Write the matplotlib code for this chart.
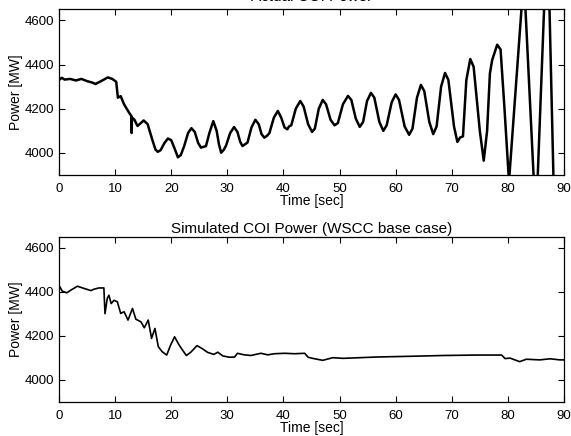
import matplotlib
matplotlib.use('Agg')
import matplotlib.pyplot as plt

# Actual COI power (measured), time in sec, power in MW
actual_t = [0.0, 0.5, 1.0, 2.0, 3.0, 4.0, 5.0, 6.0, 6.5, 7.5, 8.7, 9.5, 10.2,
            10.5, 11.0, 11.6, 12.5, 12.9, 12.95, 13.0, 13.4, 14.0, 15.1, 15.8,
            16.7, 17.2, 17.6, 18.1, 18.8, 19.4, 20.0, 20.6, 21.2, 21.7, 22.3,
            23.0, 23.6, 24.2, 24.8, 25.3, 25.8, 26.2, 26.8, 27.5, 28.1, 28.5,
            28.9, 29.4, 29.8, 30.5, 31.2, 31.8, 32.3, 32.7, 33.2, 33.6, 34.3,
            35.0, 35.6, 36.1, 36.6, 37.1, 37.5, 38.3, 39.0, 39.6, 40.2, 40.7,
            41.0, 41.4, 42.2, 43.0, 43.6, 44.4, 45.1, 45.6, 46.3, 47.0, 47.6,
            48.4, 49.1, 49.7, 50.6, 51.5, 52.1, 52.9, 53.6, 54.2, 54.9, 55.6,
            56.2, 57.1, 57.8, 58.4, 59.3, 60.0, 60.6, 61.6, 62.4, 63.0, 63.8,
            64.5, 65.1, 66.0, 66.7, 67.3, 68.1, 68.8, 69.4, 70.4, 71.0, 71.5,
            72.0, 72.6, 73.3, 73.9, 75.0, 75.7, 76.3, 76.8, 77.2, 78.1, 78.7,
            79.4, 80.2, 82.85, 85.0, 87.05, 88.3]
actual_p = [4330, 4340, 4332, 4335, 4328, 4335, 4325, 4318, 4312, 4325, 4342, 4335, 4322,
            4250, 4257, 4220, 4182, 4167, 4090, 4160, 4152, 4122, 4147, 4130,
            4054, 4015, 4005, 4012, 4045, 4065, 4058, 4020, 3980, 3990, 4030,
            4090, 4112, 4095, 4045, 4024, 4028, 4031, 4090, 4144, 4100, 4040,
            4001, 4015, 4035, 4090, 4117, 4095, 4050, 4031, 4040, 4047, 4115,
            4150, 4130, 4085, 4069, 4078, 4090, 4160, 4190, 4160, 4115, 4107,
            4120, 4125, 4200, 4235, 4210, 4130, 4095, 4110, 4200, 4240, 4220,
            4150, 4125, 4135, 4220, 4258, 4240, 4155, 4118, 4140, 4235, 4272,
            4250, 4140, 4100, 4125, 4230, 4265, 4240, 4120, 4082, 4110, 4250,
            4308, 4280, 4140, 4085, 4120, 4300, 4362, 4330, 4120, 4050, 4070,
            4075, 4330, 4425, 4390, 4100, 3965, 4100, 4360, 4420, 4490, 4468,
            4200, 3870, 4800, 3680, 5050, 3700]

# Simulated COI power (WSCC base case)
sim_t = [0.0, 0.2, 0.6, 1.4, 2.1, 3.3, 4.2, 5.7, 6.2, 7.1, 8.0, 8.2, 8.6, 8.9,
         9.3, 9.8, 10.4, 11.0, 11.6, 12.3, 13.1, 13.7, 14.6, 15.2, 15.9, 16.5,
         17.1, 17.7, 18.4, 19.2, 19.9, 20.6, 21.4, 22.0, 22.7, 23.5, 24.6, 25.6,
         26.5, 27.6, 28.3, 29.2, 30.4, 31.3, 31.8, 33.0, 34.2, 36.0, 37.2, 38.4,
         40.2, 42.0, 43.8, 44.4, 45.2, 47.0, 48.8, 50.6, 53.6, 56.5, 60.1, 63.7,
         68.5, 74.4, 78.9, 79.5, 80.4, 82.1, 83.3, 85.7, 87.5, 89.3, 90.0]
sim_p = [4425, 4420, 4402, 4395, 4407, 4425, 4417, 4405, 4411, 4417, 4417, 4300, 4369, 4384,
         4346, 4361, 4354, 4301, 4309, 4271, 4324, 4275, 4263, 4236, 4271, 4188,
         4233, 4150, 4127, 4112, 4158, 4195, 4158, 4135, 4110, 4125, 4155, 4140,
         4124, 4115, 4125, 4108, 4102, 4103, 4120, 4113, 4110, 4120, 4113, 4118,
         4120, 4118, 4120, 4102, 4097, 4088, 4100, 4097, 4100, 4103, 4105, 4107,
         4110, 4112, 4112, 4096, 4098, 4082, 4093, 4090, 4095, 4090, 4090]

x_ticks = [0, 10, 20, 30, 40, 50, 60, 70, 80, 90]
y_ticks = [4000, 4200, 4400, 4600]

plt.rcParams['font.family'] = ['Liberation Sans', 'DejaVu Sans']

fig = plt.figure(figsize=(5.71, 4.36), dpi=100)
ax1 = fig.add_axes([0.1033, 0.5986, 0.8844, 0.3800])
ax2 = fig.add_axes([0.1033, 0.0787, 0.8844, 0.3784])

panels = [(ax1, actual_t, actual_p, 'Actual COI Power', 1.8, 6),
          (ax2, sim_t, sim_p, 'Simulated COI Power (WSCC base case)', 1.2, 3)]
for ax, t, p, title, lw, tpad in panels:
    ax.plot(t, p, color='black', lw=lw)
    ax.set_xlim(0, 90)
    ax.set_ylim(3900, 4650)
    ax.set_xticks(x_ticks)
    ax.set_yticks(y_ticks)
    ax.tick_params(axis='x', pad=6)
    ax.tick_params(direction='in', top=True, right=True, length=4, width=0.8, labelsize=9.5)
    for s in ax.spines.values():
        s.set_linewidth(0.9)
    ax.set_xlabel('Time [sec]', fontsize=10, labelpad=-1)
    ax.set_ylabel('Power [MW]', fontsize=10, labelpad=1)
    ax.set_title(title, fontsize=11, pad=tpad)

fig.savefig('out.png', dpi=100)
